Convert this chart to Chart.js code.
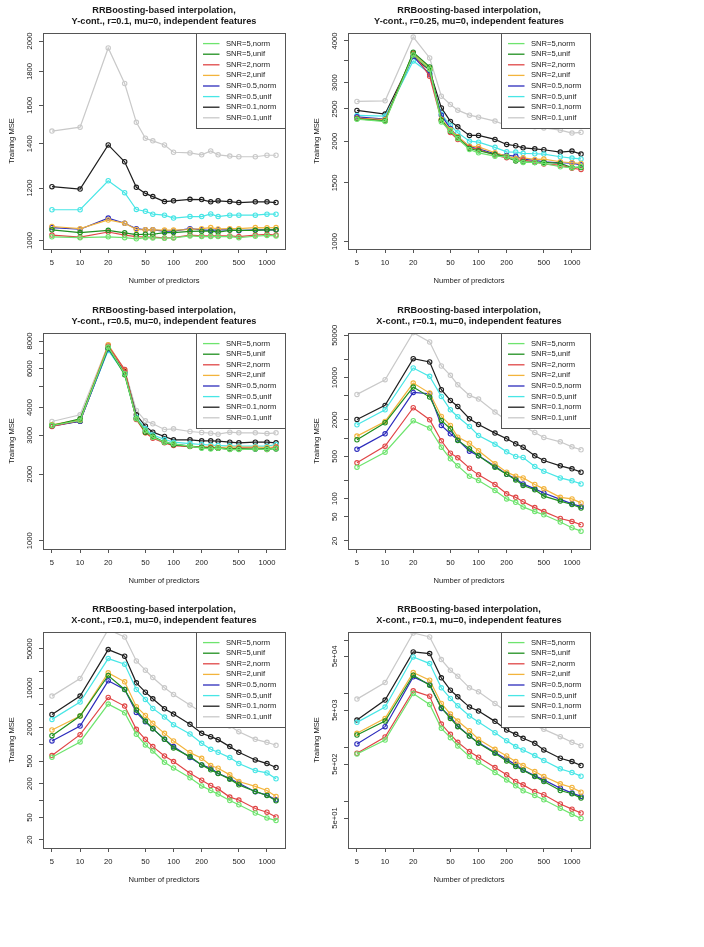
<!DOCTYPE html>
<html>
<head>
<meta charset="utf-8">
<script src="https://cdn.jsdelivr.net/npm/chart.js@4.4.0/dist/chart.umd.min.js"></script>
<style>
  html, body { margin: 0; padding: 0; background: #fff; }
  #wrap { position: relative; width: 704px; height: 947px; }
  .panel { position: absolute; width: 305px; height: 300px; }
</style>
</head>
<body>
<div id="wrap"></div>
<script>
// number of predictors (x) shared by every panel
const predictors = [5, 10, 20, 30, 40, 50, 60, 80, 100, 150, 200, 250, 300, 400, 500, 750, 1000, 1250]
const xTicks = [5, 10, 20, 50, 100, 200, 500, 1000]

const seriesLabels = ['SNR=5,norm', 'SNR=5,unif', 'SNR=2,norm', 'SNR=2,unif',
                      'SNR=0.5,norm', 'SNR=0.5,unif', 'SNR=0.1,norm', 'SNR=0.1,unif']
const seriesColors = ['#6ee46e', '#1f8f1f', '#e04646', '#f3b43c',
                      '#2c2cbc', '#48e6e6', '#1e1e1e', '#c9c9c9']

// training MSE, one row per series (same order as seriesLabels)
const ycontR010 = [
    [1013, 1010, 1013, 1010, 1006, 1010, 1009, 1008, 1009, 1016, 1014, 1014, 1014, 1014, 1010, 1015, 1018, 1016],
    [1038, 1028, 1036, 1027, 1021, 1022, 1022, 1028, 1028, 1032, 1033, 1033, 1030, 1036, 1036, 1036, 1038, 1038],
    [1019, 1012, 1030, 1019, 1014, 1012, 1012, 1009, 1010, 1019, 1016, 1016, 1016, 1016, 1014, 1019, 1022, 1019],
    [1050, 1042, 1074, 1062, 1039, 1038, 1038, 1037, 1037, 1039, 1042, 1046, 1041, 1042, 1042, 1046, 1045, 1046],
    [1046, 1040, 1081, 1062, 1042, 1038, 1038, 1033, 1033, 1042, 1038, 1036, 1038, 1038, 1035, 1038, 1038, 1038],
    [1113, 1113, 1231, 1181, 1114, 1107, 1096, 1092, 1081, 1087, 1087, 1097, 1087, 1092, 1092, 1092, 1096, 1096],
    [1206, 1196, 1394, 1315, 1203, 1178, 1165, 1145, 1148, 1154, 1153, 1144, 1148, 1145, 1141, 1144, 1144, 1141],
    [1463, 1483, 1953, 1726, 1508, 1427, 1414, 1394, 1359, 1356, 1347, 1365, 1347, 1341, 1338, 1338, 1345, 1345]
]
const ycontR025 = [
    [2330, 2293, 3633, 3290, 2287, 2150, 2039, 1890, 1847, 1805, 1797, 1756, 1728, 1728, 1716, 1677, 1665, 1677],
    [2335, 2303, 3700, 3344, 2314, 2145, 2049, 1903, 1873, 1826, 1797, 1744, 1736, 1728, 1728, 1716, 1669, 1669],
    [2346, 2303, 3683, 3135, 2314, 2125, 2025, 1916, 1890, 1818, 1784, 1756, 1756, 1736, 1708, 1696, 1661, 1646],
    [2346, 2324, 3666, 3305, 2330, 2170, 2063, 1934, 1925, 1847, 1805, 1776, 1784, 1764, 1768, 1736, 1724, 1716],
    [2368, 2330, 3598, 3179, 2395, 2184, 2063, 1925, 1899, 1834, 1814, 1805, 1768, 1752, 1736, 1724, 1720, 1700],
    [2391, 2380, 3484, 3200, 2413, 2231, 2121, 2002, 1988, 1918, 1860, 1856, 1840, 1835, 1831, 1797, 1781, 1770],
    [2475, 2413, 3598, 3267, 2519, 2294, 2210, 2083, 2083, 2026, 1957, 1939, 1912, 1899, 1886, 1856, 1869, 1831],
    [2634, 2645, 4111, 3557, 2732, 2579, 2480, 2396, 2363, 2299, 2231, 2247, 2247, 2210, 2194, 2160, 2116, 2127]
]
const ycontR050 = [
    [3319, 3497, 7516, 5690, 3558, 3151, 2939, 2790, 2742, 2676, 2620, 2602, 2620, 2584, 2584, 2602, 2584, 2620],
    [3319, 3558, 7437, 5631, 3583, 3097, 2970, 2790, 2713, 2676, 2639, 2620, 2620, 2602, 2602, 2602, 2602, 2602],
    [3285, 3497, 7594, 5953, 3534, 3075, 2909, 2771, 2694, 2666, 2648, 2639, 2620, 2602, 2620, 2620, 2584, 2648],
    [3343, 3534, 7701, 5892, 3558, 3075, 2929, 2790, 2713, 2676, 2648, 2657, 2639, 2648, 2648, 2648, 2639, 2657],
    [3296, 3473, 7386, 5750, 3558, 3151, 2939, 2790, 2732, 2676, 2630, 2620, 2620, 2602, 2602, 2602, 2602, 2620],
    [3343, 3497, 7259, 5690, 3622, 3206, 3010, 2868, 2790, 2751, 2723, 2704, 2694, 2685, 2676, 2676, 2676, 2723],
    [3319, 3473, 7386, 5830, 3710, 3296, 3097, 2960, 2858, 2858, 2829, 2829, 2819, 2790, 2771, 2790, 2790, 2771],
    [3461, 3710, 7701, 5953, 3882, 3485, 3378, 3184, 3206, 3118, 3086, 3064, 3032, 3097, 3075, 3075, 3053, 3075]
]
const xcontA = [
    [331, 586, 1935, 1463, 709, 455, 348, 235, 199, 136, 99, 87, 73, 61, 54, 41, 33, 29],
    [938, 1793, 6981, 4768, 1960, 1427, 915, 666, 510, 331, 253, 204, 165, 140, 110, 91, 80, 70],
    [390, 737, 3176, 2011, 903, 564, 472, 319, 247, 171, 120, 105, 89, 71, 61, 47, 42, 37],
    [1079, 1886, 8128, 5553, 2282, 1620, 1038, 826, 617, 376, 274, 235, 220, 171, 145, 105, 99, 85],
    [657, 1178, 5695, 5413, 1620, 1178, 938, 609, 510, 344, 253, 212, 175, 145, 124, 97, 82, 74],
    [1661, 2942, 14400, 10480, 4890, 2942, 2253, 1559, 1106, 795, 594, 497, 478, 340, 284, 220, 197, 175],
    [2036, 3471, 20550, 18100, 6304, 4200, 3340, 2088, 1682, 1209, 974, 805, 709, 510, 427, 348, 311, 274],
    [5278, 9230, 55360, 38780, 15540, 10890, 7626, 5080, 4418, 2692, 1960, 1726, 1579, 1240, 1025, 869, 718, 641]
]
const xcontB = [
    [588, 1100, 5188, 3642, 1504, 973, 761, 479, 380, 253, 182, 151, 130, 100, 84, 60, 49, 44],
    [1424, 3178, 16720, 9441, 4061, 2592, 1895, 1226, 861, 604, 430, 351, 302, 240, 190, 145, 123, 99],
    [630, 1484, 6811, 4781, 1845, 1226, 909, 621, 493, 306, 230, 185, 161, 115, 102, 72, 62, 51],
    [1795, 3178, 18640, 12910, 4653, 3266, 2356, 1566, 1146, 711, 564, 418, 375, 286, 218, 178, 151, 118],
    [1146, 2113, 13450, 9441, 3692, 2522, 1895, 1226, 909, 580, 430, 375, 306, 246, 203, 143, 125, 103],
    [2774, 5627, 33460, 26560, 9441, 6278, 4347, 3051, 2232, 1524, 1041, 815, 721, 580, 454, 341, 310, 243],
    [3402, 7191, 48320, 36810, 12400, 8466, 6449, 4288, 3449, 2262, 1566, 1367, 1209, 909, 721, 527, 454, 386],
    [7191, 14790, 110000, 81060, 30430, 20790, 15410, 10110, 7698, 4980, 3692, 3178, 2774, 2113, 1677, 1226, 1085, 960]
]
const xcontC = [
    [772, 1401, 10210, 6395, 2302, 1548, 1086, 690, 542, 349, 255, 198, 160, 131, 109, 76, 59, 49],
    [1734, 3146, 22280, 14560, 5548, 3524, 2472, 1661, 1216, 795, 573, 450, 385, 294, 238, 162, 141, 117],
    [795, 1592, 11440, 9116, 2769, 1783, 1269, 853, 670, 432, 316, 238, 206, 155, 135, 91, 73, 62],
    [1861, 3524, 24960, 18010, 6673, 4238, 3146, 2085, 1442, 942, 709, 557, 470, 364, 294, 215, 184, 151],
    [1182, 2472, 20750, 14980, 5392, 3783, 2543, 1661, 1251, 817, 615, 484, 391, 303, 255, 179, 145, 126],
    [2973, 5708, 48630, 36610, 12990, 8255, 6040, 3891, 3015, 1915, 1362, 1055, 915, 719, 582, 408, 349, 299],
    [3282, 7690, 60160, 56030, 19890, 11770, 8861, 5708, 4815, 3102, 2145, 1783, 1504, 1216, 915, 642, 557, 470],
    [8025, 16310, 135000, 113900, 43400, 27570, 21360, 12990, 10960, 6673, 4680, 3948, 3146, 2616, 2207, 1615, 1269, 1101]
]

// y axis ticks (all get a tick mark) and the ones that carry a label
const yTicksR010 = [1000, 1200, 1400, 1600, 1800, 2000]
const yTicksR025 = [1000, 1500, 2000, 2500, 3000, 3500, 4000]
const yLabelsR025 = [1000, 1500, 2000, 2500, 3000, 4000]
const yTicksR050 = [1000, 2000, 3000, 4000, 5000, 6000, 7000, 8000]
const yLabelsR050 = [1000, 2000, 3000, 4000, 6000, 8000]
const yTicksX = [20, 50, 100, 200, 500, 1000, 2000, 5000, 10000, 20000, 50000]
const yLabelsXA = [20, 50, 100, 500, 2000, 10000, 50000]
const yLabelsXB = [20, 50, 200, 500, 2000, 10000, 50000]
const yTicksXC = [50, 100, 500, 1000, 5000, 10000, 50000, 100000]
const yLabelsXC = [50, 500, 5000, 50000]

const FONT = "'Liberation Sans', Arial, sans-serif"
const TEXT = '#1a1a1a'
const FRAME = '#555555'

const panels = [
    {left: 0, top: 0, sub: 'Y-cont., r=0.1, mu=0, independent features', data: ycontR010,
        yMin: 971, yMax: 2057, yTicks: yTicksR010, yLabels: yTicksR010, fmt: v => String(v)},
    {left: 305, top: 0, sub: 'Y-cont., r=0.25, mu=0, independent features', data: ycontR025,
        yMin: 950, yMax: 4227, yTicks: yTicksR025, yLabels: yLabelsR025, fmt: v => String(v)},
    {left: 0, top: 300, sub: 'Y-cont., r=0.5, mu=0, independent features', data: ycontR050,
        yMin: 917, yMax: 8700, yTicks: yTicksR050, yLabels: yLabelsR050, fmt: v => String(v)},
    {left: 305, top: 300, sub: 'X-cont., r=0.1, mu=0, independent features', data: xcontA,
        yMin: 14.7, yMax: 54600, yTicks: yTicksX, yLabels: yLabelsXA, fmt: v => String(v)},
    {left: 0, top: 599, sub: 'X-cont., r=0.1, mu=0, independent features', data: xcontB,
        yMin: 14.3, yMax: 99400, yTicks: yTicksX, yLabels: yLabelsXB, fmt: v => String(v)},
    {left: 305, top: 599, sub: 'X-cont., r=0.1, mu=0, independent features', data: xcontC,
        yMin: 13.9, yMax: 141000, yTicks: yTicksXC, yLabels: yLabelsXC,
        fmt: v => v.toExponential(0).replace(/e\+(\d)$/, 'e+0$1')}
]

// R-style decorations: frame, title, axis titles, rotated y labels, boxed legend
const rDecor = {
    id: 'rDecor',
    afterDraw(chart, args, opts) {
        const ctx = chart.ctx
        const a = chart.chartArea
        const yScale = chart.scales.y
        const cx = (a.left + a.right) / 2
        ctx.save()
        ctx.strokeStyle = FRAME
        ctx.lineWidth = 1
        ctx.strokeRect(a.left + 0.5, a.top + 0.5, a.right - a.left, a.bottom - a.top)

        ctx.fillStyle = TEXT
        ctx.textAlign = 'center'
        ctx.textBaseline = 'middle'
        ctx.font = 'bold 9.2px ' + FONT
        ctx.fillText('RRBoosting-based interpolation,', cx, 10.5)
        ctx.fillText(opts.sub, cx, 21.5)

        ctx.font = '7.6px ' + FONT
        ctx.fillText('Number of predictors', cx, 281)
        ctx.save()
        ctx.translate(12, (a.top + a.bottom) / 2)
        ctx.rotate(-Math.PI / 2)
        ctx.fillText('Training MSE', 0, 0)
        ctx.restore()

        opts.yLabels.forEach(v => {
            const y = yScale.getPixelForValue(v)
            ctx.save()
            ctx.translate(29.5, y)
            ctx.rotate(-Math.PI / 2)
            ctx.fillText(opts.fmt(v), 0, 0)
            ctx.restore()
        })

        // legend
        const bw = 89, bh = 95
        const bx = a.right - bw, by = a.top
        ctx.fillStyle = '#ffffff'
        ctx.fillRect(bx, by, bw, bh)
        ctx.strokeStyle = FRAME
        ctx.strokeRect(bx + 0.5, by + 0.5, bw, bh)
        ctx.textAlign = 'left'
        chart.data.datasets.forEach((ds, i) => {
            const y = by + 10.6 + i * 10.6
            ctx.strokeStyle = ds.borderColor
            ctx.lineWidth = 1.3
            ctx.beginPath()
            ctx.moveTo(bx + 7, y)
            ctx.lineTo(bx + 23.5, y)
            ctx.stroke()
            ctx.fillStyle = TEXT
            ctx.fillText(ds.label, bx + 30, y)
        })
        ctx.restore()
    }
}

const wrap = document.getElementById('wrap')

panels.forEach(p => {
    const div = document.createElement('div')
    div.className = 'panel'
    div.style.left = p.left + 'px'
    div.style.top = p.top + 'px'
    const canvas = document.createElement('canvas')
    canvas.width = 305
    canvas.height = 300
    div.appendChild(canvas)
    wrap.appendChild(div)

    const datasets = p.data.map((values, i) => ({
        label: seriesLabels[i],
        data: values.map((v, j) => ({x: predictors[j], y: v})),
        borderColor: seriesColors[i],
        backgroundColor: seriesColors[i],
        borderWidth: 1.2,
        pointRadius: 2.2,
        pointBorderWidth: 1.1,
        pointBackgroundColor: 'rgba(255,255,255,0)',
        pointBorderColor: seriesColors[i],
        tension: 0
    }))

    new Chart(canvas.getContext('2d'), {
        type: 'line',
        data: {datasets},
        options: {
            responsive: false,
            animation: false,
            events: [],
            layout: {padding: {left: 43, top: 33, right: 20, bottom: 0}},
            plugins: {
                legend: {display: false},
                tooltip: {enabled: false},
                rDecor: {sub: p.sub, yLabels: p.yLabels, fmt: p.fmt}
            },
            scales: {
                x: {
                    type: 'logarithmic',
                    min: 4.01,
                    max: 1559,
                    afterFit: s => { s.height = 51 },
                    afterBuildTicks: s => { s.ticks = xTicks.map(v => ({value: v})) },
                    ticks: {
                        autoSkip: false, maxRotation: 0, minRotation: 0,
                        padding: 5, color: TEXT,
                        font: {family: FONT, size: 7.6},
                        callback: v => String(v)
                    },
                    grid: {drawOnChartArea: false, tickLength: 4, color: FRAME},
                    border: {display: false}
                },
                y: {
                    type: 'logarithmic',
                    min: p.yMin,
                    max: p.yMax,
                    afterFit: s => { s.width = 0 },
                    afterBuildTicks: s => { s.ticks = p.yTicks.map(v => ({value: v})) },
                    ticks: {display: false},
                    grid: {drawOnChartArea: false, tickLength: 4, color: FRAME},
                    border: {display: false}
                }
            }
        },
        plugins: [rDecor]
    })
})
</script>
</body>
</html>
